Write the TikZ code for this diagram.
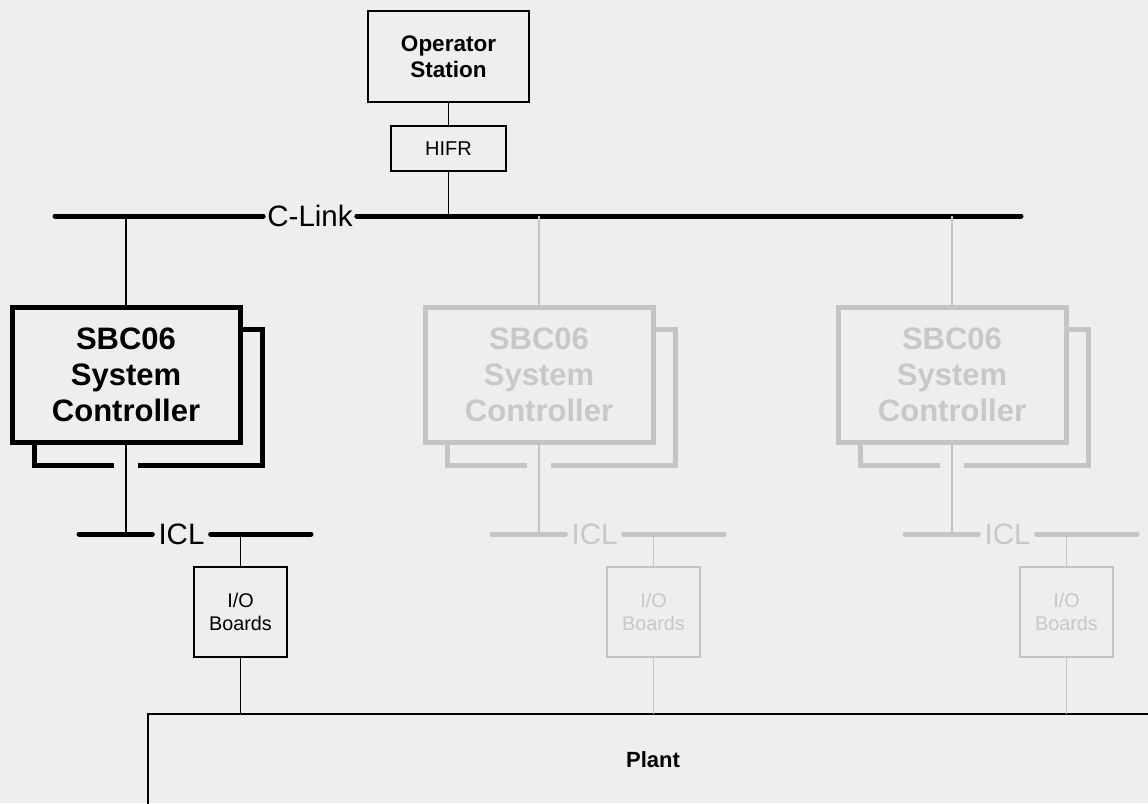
\documentclass[tikz,border=0pt]{standalone}
\usepackage{fontspec}
\setmainfont{Liberation Sans}
\definecolor{bg}{HTML}{EEEEEE}
\definecolor{fadeline}{HTML}{C4C4C4}
\definecolor{fadetext}{HTML}{C8C8C8}
\begin{document}
\begin{tikzpicture}[x=1pt,y=-1pt,
  thin line/.style={line width=1.6pt},
  busline/.style={line width=5pt,line cap=round},
  buslabel/.style={inner sep=0pt,font=\fontsize{29.5}{34}\selectfont},
  plainbox/.style={draw,line width=1.6pt,outer sep=0pt,inner sep=0pt,align=center},
  sbcbox/.style={draw,line width=5pt,outer sep=0pt,inner sep=0pt,align=center,
     minimum width=228pt,minimum height=135pt,font=\fontsize{31}{36}\selectfont\bfseries},
  iobox/.style={plainbox,minimum width=93pt,minimum height=90pt,font=\fontsize{19.8}{23}\selectfont},
  backbox/.style={line width=5pt,line cap=butt,line join=miter}
]
\useasboundingbox (0,0) rectangle (1148,803);
\fill[bg] (0,0) rectangle (1148,803);
\clip (0,0) rectangle (1148,803);

% Plant
\node[plainbox,line width=2pt,anchor=north west,minimum width=1100pt,minimum height=200pt] (plant) at (148,714) {};
\node[font=\fontsize{22}{26}\selectfont\bfseries] (planttxt) at (653,760) {Plant};

% Operator station and HIFR
\node[plainbox,minimum width=161pt,minimum height=91pt,font=\fontsize{22.5}{26}\selectfont\bfseries] (os) at (448.5,56.5) {Operator\\Station};
\node[plainbox,minimum width=115pt,minimum height=45pt,font=\fontsize{20}{22}\selectfont] (hifr) at (448.5,148.5) {HIFR};
\draw[thin line] (os.south) -- (hifr.north);

% C-Link bus
\coordinate (clL) at (55,216);
\coordinate (clR) at (1021,216);
\node[buslabel] (clink) at (310,216) {C-Link};
\coordinate (clH) at (448.5,216);
\draw[busline] (clL) -- ([xshift=-4pt]clink.west);
\draw[busline] ([xshift=4pt]clink.east) -- (clR);
\draw[thin line] (hifr.south) -- (clH);

% Columns
\foreach \i/\dx/\lc/\tc in {1/0/black/black, 2/413/fadeline/fadetext, 3/826/fadeline/fadetext}{
  \begin{scope}[xshift=\dx]
    \coordinate (top\i) at (126,216);
    % back (redundant) controller outline
    \draw[backbox,draw=\lc] (240,329) -- (262,329) -- (262,465) -- (138,465);
    \draw[backbox,draw=\lc] (114,465) -- (34,465) -- (34,442);
    % front controller box
    \node[sbcbox,draw=\lc,text=\tc] (sbc\i) at (126,374.5) {SBC06\\System\\Controller};
    % ICL bus
    \coordinate (iclL\i) at (79,534);
    \coordinate (iclR\i) at (311,534);
    \coordinate (iclC\i) at (126,534);
    \coordinate (iclIO\i) at (240.5,534);
    \node[buslabel,text=\tc] (icl\i) at (181.5,534) {ICL};
    \draw[busline,draw=\lc] (iclL\i) -- ([xshift=-6pt]icl\i.west);
    \draw[busline,draw=\lc] ([xshift=6pt]icl\i.east) -- (iclR\i);
    % I/O boards
    \node[iobox,draw=\lc,text=\tc] (io\i) at (240.5,612) {I/O\\Boards};
    \coordinate (pl\i) at (240.5,714);
    % connectors
    \draw[thin line,draw=\lc] (top\i) -- (sbc\i.north);
    \draw[thin line,draw=\lc] (sbc\i.south) -- (iclC\i);
    \draw[thin line,draw=\lc] (iclIO\i) -- (io\i.north);
    \draw[thin line,draw=\lc] (io\i.south) -- (pl\i);
  \end{scope}
}
\end{tikzpicture}
\end{document}
